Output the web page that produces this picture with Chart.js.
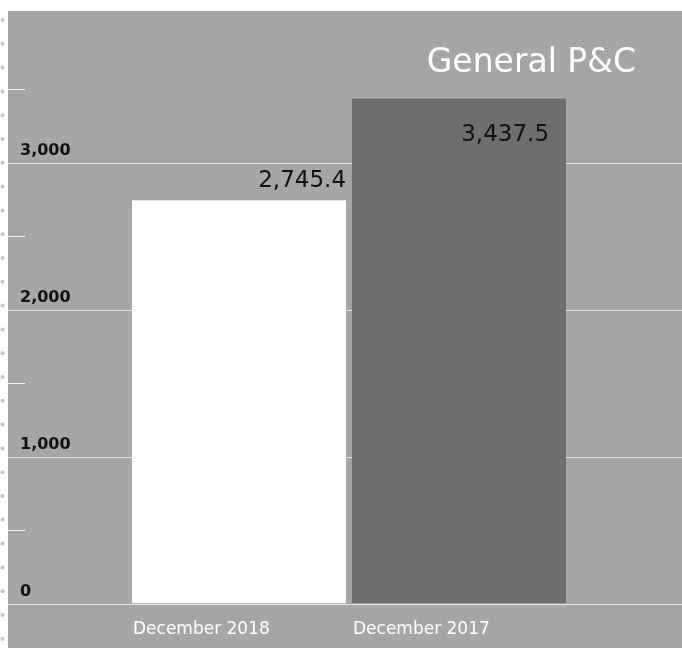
<!DOCTYPE html>
<html>
<head>
<meta charset="utf-8">
<title>General P&amp;C</title>
<script src="https://cdn.jsdelivr.net/npm/chart.js@4"></script>
<style>
  html, body { margin: 0; padding: 0; background: #ffffff; }
  #wrap { width: 682px; height: 648px; }
</style>
</head>
<body>
<div id="wrap"><canvas id="pc"></canvas></div>
<script>
// values shown on the chart
const periods = ['December 2018', 'December 2017'];
const premiums = [2745.4, 3437.5];
const barColors = ['#ffffff', '#6e6e6e'];
const yTicks = [0, 1000, 2000, 3000];
const yMinorTicks = [500, 1500, 2500, 3500];
const chartTitle = 'General P&C';

const FONT = '"DejaVu Sans", sans-serif';
const fmt = (v, d) => v.toLocaleString('en-US', { minimumFractionDigits: d, maximumFractionDigits: d });

// panel background, dotted margin, full-width grid lines and short half-step marks
const panel = {
    id: 'panel',
    beforeDraw(chart) {
        const ctx = chart.ctx;
        const y = chart.scales.y;
        const W = chart.width, H = chart.height;
        ctx.save();
        ctx.fillStyle = '#ffffff';
        ctx.fillRect(0, 0, W, H);
        ctx.fillStyle = '#c6c6c6';
        for (let dy = 20; dy < H; dy += 23.8) {
            ctx.beginPath();
            ctx.arc(2.5, dy, 2, 0, Math.PI * 2);
            ctx.fill();
        }
        ctx.fillStyle = '#a6a6a6';
        ctx.fillRect(8, 11, W - 8, H - 11);

        ctx.lineWidth = 1;
        ctx.strokeStyle = '#e4e4e4';
        yTicks.forEach(v => {
            const py = Math.round(y.getPixelForValue(v)) + 0.5;
            ctx.beginPath();
            ctx.moveTo(8, py);
            ctx.lineTo(W, py);
            ctx.stroke();
        });
        ctx.strokeStyle = '#f4f4f4';
        yMinorTicks.forEach(v => {
            const py = Math.round(y.getPixelForValue(v)) + 0.5;
            ctx.beginPath();
            ctx.moveTo(8, py);
            ctx.lineTo(25, py);
            ctx.stroke();
        });
        ctx.restore();
    }
};

// value labels by each bar plus the heading in the top right
const annotate = {
    id: 'annotate',
    afterDatasetsDraw(chart, args, opts) {
        const ctx = chart.ctx;
        const meta = chart.getDatasetMeta(0);
        ctx.save();
        ctx.font = '23px ' + FONT;
        ctx.fillStyle = '#111111';
        ctx.textAlign = 'right';
        ctx.textBaseline = 'alphabetic';
        meta.data.forEach((bar, i) => {
            const off = opts.offsets[i];
            const right = bar.x + bar.width / 2;
            ctx.fillText(fmt(premiums[i], 1), right + off.dx, bar.y + off.dy);
        });
        ctx.font = '33px ' + FONT;
        ctx.fillStyle = '#ffffff';
        ctx.fillText(chartTitle, 636, 72);
        ctx.restore();
    }
};

new Chart(document.getElementById('pc').getContext('2d'), {
    type: 'bar',
    data: {
        labels: periods,
        datasets: [{
            data: premiums,
            backgroundColor: barColors,
            borderWidth: 0,
            barPercentage: 0.973,
            categoryPercentage: 1
        }]
    },
    options: {
        responsive: true,
        maintainAspectRatio: false,
        animation: false,
        layout: { padding: { left: 20, right: 113, top: 16, bottom: -8 } },
        plugins: {
            legend: { display: false },
            tooltip: { enabled: false },
            annotate: {
                offsets: [{ dx: 0, dy: -13 }, { dx: -17, dy: 42 }]
            }
        },
        scales: {
            x: {
                offset: true,
                grid: { display: false, drawTicks: false },
                border: { display: false },
                ticks: {
                    color: '#ffffff',
                    font: { family: FONT, size: 17, lineHeight: 1.2 },
                    align: 'start',
                    labelOffset: -106,
                    padding: 16,
                    maxRotation: 0
                }
            },
            y: {
                min: 0,
                max: 4000,
                grid: { display: false, drawTicks: false },
                border: { display: false },
                afterBuildTicks: (scale) => { scale.ticks = yTicks.map(v => ({ value: v })); },
                afterFit: (scale) => { scale.width = 109; },
                ticks: {
                    color: '#111111',
                    font: { family: FONT, size: 16, weight: 'bold' },
                    crossAlign: 'far',
                    labelOffset: -12,
                    callback: (v) => fmt(v, 0)
                }
            }
        }
    },
    plugins: [panel, annotate]
});
</script>
</body>
</html>
